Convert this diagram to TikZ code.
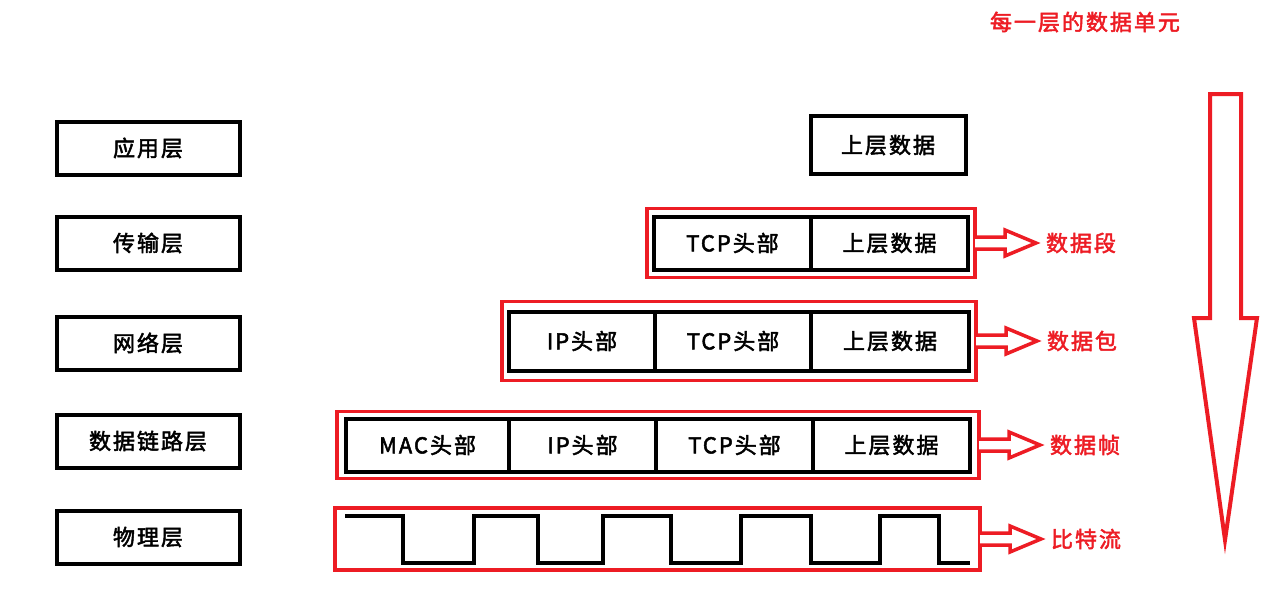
\documentclass[tikz,border=0pt]{standalone}
\usepackage{fontspec}
\setmainfont{Noto Sans CJK SC}[LetterSpace=9, BoldFont=Noto Sans CJK SC,
  BoldFeatures={FakeBold=2.2}]
\usetikzlibrary{positioning,fit}
\definecolor{unitRed}{HTML}{ED1C24}
\tikzset{
  layer diagram/.style={
    x=1pt, y=-1pt, line join=miter,
    every node/.style={font=\fontsize{22}{24}\selectfont\bfseries, text=black,
      inner sep=0pt, outer sep=0pt}
  },
  layer box/.style={draw=black, line width=4pt, minimum width=183pt,
    minimum height=53pt},
  cell/.style={draw=black, line width=4pt, minimum height=53pt},
  unit frame/.style={draw=unitRed, line width=3.5pt, inner sep=0pt},
  unit arrow/.style={draw=unitRed, line width=3.5pt, fill=white},
  unit label/.style={text=unitRed, anchor=west},
  wave/.style={draw=black, line width=4pt}
}
% hollow arrow leaving a red frame
\newcommand{\UnitArrow}[2]{%
  \draw[unit arrow] (#1) ++(0,-6) -- ++(30,0) -- ++(0,-7) -- ++(31,13)
    coordinate (#2) -- ++(-31,13) -- ++(0,-7) -- ++(-30,0);
}

\begin{document}
\begin{tikzpicture}[layer diagram]
  \useasboundingbox (0,0) rectangle (1282,594);

  % layers
  \node[layer box] (app)  at (148,148) {应用层};
  \node[layer box] (tran) at (148,243) {传输层};
  \node[layer box] (net)  at (148,343) {网络层};
  \node[layer box] (link) at (148,441) {数据链路层};
  \node[layer box] (phy)  at (148,537) {物理层};

  % application data
  \node[cell, minimum width=155pt, minimum height=58pt] (d1) at (888,145) {上层数据};

  % segment
  \node[cell, minimum width=157pt, anchor=west] (tcp2) at (654,243) {TCP头部};
  \node[cell, minimum width=157pt, right=0pt of tcp2] (d2) {上层数据};
  \node[unit frame, fit=(tcp2)(d2), inner xsep=7pt, inner ysep=8pt] (seg) {};

  % packet
  \node[cell, minimum width=146pt, minimum height=59pt, anchor=west] (ip3) at (509,341) {IP头部};
  \node[cell, minimum width=156pt, minimum height=59pt, right=0pt of ip3] (tcp3) {TCP头部};
  \node[cell, minimum width=158pt, minimum height=59pt, right=0pt of tcp3] (d3) {上层数据};
  \node[unit frame, fit=(ip3)(d3), inner xsep=7pt, inner ysep=10pt] (pkt) {};

  % frame
  \node[cell, minimum width=163pt, anchor=west] (mac4) at (346,445) {MAC头部};
  \node[cell, minimum width=147pt, right=0pt of mac4] (ip4) {IP头部};
  \node[cell, minimum width=157pt, right=0pt of ip4] (tcp4) {TCP头部};
  \node[cell, minimum width=157pt, right=0pt of tcp4] (d4) {上层数据};
  \node[unit frame, fit=(mac4)(d4), inner xsep=9pt, inner ysep=7pt] (frm) {};

  % bits
  \node[unit frame, minimum width=645pt, minimum height=62pt] (bits) at (657.5,539) {};
  \draw[wave] (345,516) -| (403,563) -| (474,516) -| (538,563) -| (603,516)
    -| (671,563) -| (741,516) -| (811,563) -| (880,516) -| (939,563) -- (970,563);

  % unit names
  \UnitArrow{seg.east}{segtip}
  \UnitArrow{pkt.east}{pkttip}
  \UnitArrow{frm.east}{frmtip}
  \UnitArrow{bits.east}{bitstip}
  \node[unit label, right=10pt of segtip] {数据段};
  \node[unit label, right=10pt of pkttip] {数据包};
  \node[unit label, right=10pt of frmtip] {数据帧};
  \node[unit label, right=10pt of bitstip] {比特流};

  % downward arrow
  \node[unit label] (title) at (990,22) {每一层的数据单元};
  \draw[unit arrow, line width=4pt] (1210,94) -- (1241,94) -- (1241,318) -- (1257,318)
    -- (1225,540) -- (1194,318) -- (1210,318) -- cycle;
\end{tikzpicture}
\end{document}
